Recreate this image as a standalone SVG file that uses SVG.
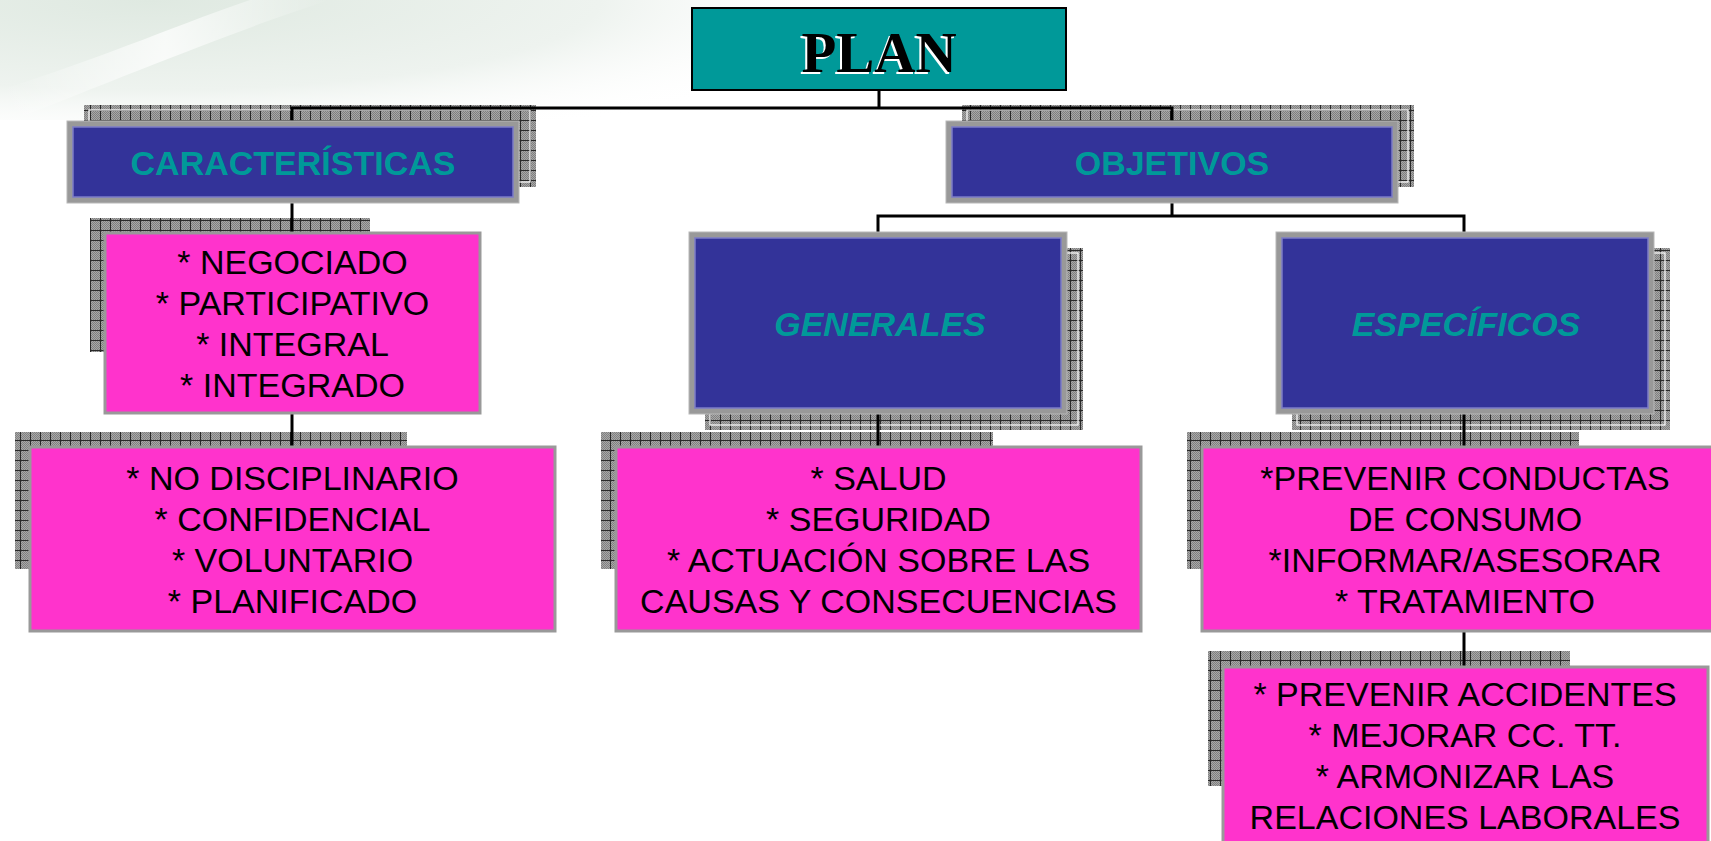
<svg xmlns="http://www.w3.org/2000/svg" width="1711" height="841" viewBox="0 0 1711 841">
<defs>
<radialGradient id="bg" cx="150" cy="0" r="750" gradientUnits="userSpaceOnUse" gradientTransform="translate(150 0) scale(1 0.2) translate(-150 0)">
<stop offset="0" stop-color="#dfe9e1"/>
<stop offset="0.6" stop-color="#eef3ef"/>
<stop offset="1" stop-color="#ffffff" stop-opacity="0"/>
</radialGradient>
<linearGradient id="swoosh" x1="0" y1="0" x2="1" y2="0">
<stop offset="0" stop-color="#ffffff" stop-opacity="0"/>
<stop offset="0.5" stop-color="#ffffff" stop-opacity="0.9"/>
<stop offset="1" stop-color="#ffffff" stop-opacity="0"/>
</linearGradient>
<pattern id="dither" width="2" height="2" patternUnits="userSpaceOnUse">
<rect width="2" height="2" fill="#a8a8a8"/>
<rect width="1" height="1" fill="#808080"/>
<rect x="1" y="1" width="1" height="1" fill="#808080"/>
</pattern>
<pattern id="grid" width="10" height="10" patternUnits="userSpaceOnUse">
<rect width="10" height="10" fill="url(#dither)"/>
<rect width="10" height="1" fill="#2a2a2a"/>
<rect width="1" height="10" fill="#2a2a2a"/>
</pattern>
<style>
.shadow{fill:url(#grid);}
.shline{fill:none;stroke:#ffffff;stroke-width:1.2;}
.conn{fill:none;stroke:#000000;stroke-width:3;}
.frame{fill:#999999;stroke:#b8b8b8;stroke-width:1;}
.blue{fill:#333399;stroke:#7c7cc8;stroke-width:1.5;}
.pink{fill:#ff33cc;stroke:#999999;stroke-width:3;}
.head{font-family:"Liberation Sans",Arial,sans-serif;font-weight:bold;font-size:34px;fill:#009999;text-anchor:middle;}
.it{font-style:italic;}
.body{font-family:"Liberation Sans",Arial,sans-serif;font-size:34px;fill:#000000;text-anchor:middle;}
.plan{font-family:"Liberation Serif","Times New Roman",serif;font-weight:bold;font-size:57px;text-anchor:middle;}
</style>
</defs>

<g id="background">
<rect width="1711" height="841" fill="#ffffff"/>
<rect width="1711" height="120" fill="url(#bg)"/>
<path d="M0 90 C110 55 190 20 250 0 L330 0 C250 25 140 70 0 125 Z" fill="url(#swoosh)" opacity="0.8"/>
</g>

<g id="shadows">
<rect class="shadow" x="84" y="105" width="452" height="82"/>
<rect class="shline" x="89" y="110" width="441" height="72"/>
<rect class="shadow" x="962" y="105" width="452" height="82"/>
<rect class="shline" x="967" y="110" width="441" height="72"/>
<rect class="shadow" x="705" y="248" width="378" height="182"/>
<rect class="shline" x="710" y="253" width="368" height="172"/>
<rect class="shadow" x="1292" y="248" width="378" height="182"/>
<rect class="shline" x="1297" y="253" width="368" height="172"/>
<rect class="shadow" x="90" y="218" width="280" height="134"/>
<rect class="shadow" x="15" y="432" width="392" height="137"/>
<rect class="shadow" x="601" y="432" width="392" height="137"/>
<rect class="shadow" x="1187" y="432" width="392" height="137"/>
<rect class="shadow" x="1208" y="651" width="362" height="135"/>
</g>

<g id="connectors">
<path class="conn" d="M879 90 V108 M292 122 V108 H1172 V122"/>
<path class="conn" d="M1172 203 V216 M878 232 V216 H1464 V232"/>
<path class="conn" d="M292 203 V234"/>
<path class="conn" d="M292 413 V448"/>
<path class="conn" d="M878 414 V448"/>
<path class="conn" d="M1464 414 V448"/>
<path class="conn" d="M1464 631 V668"/>
</g>

<g id="plan">
<rect x="692" y="8" width="374" height="82" fill="#009999" stroke="#000000" stroke-width="2"/>
<text class="plan" x="877" y="74" fill="#ffffff">PLAN</text>
<text class="plan" x="879" y="72" fill="#000000">PLAN</text>
</g>

<g id="caracteristicas">
<rect class="frame" x="67" y="121" width="452" height="82"/>
<rect class="blue" x="73" y="127" width="440" height="70"/>
<text class="head" x="293" y="175">CARACTERÍSTICAS</text>
</g>

<g id="objetivos">
<rect class="frame" x="946" y="121" width="452" height="82"/>
<rect class="blue" x="952" y="127" width="440" height="70"/>
<text class="head" x="1172" y="175">OBJETIVOS</text>
</g>

<g id="generales">
<rect class="frame" x="689" y="232" width="378" height="182"/>
<rect class="blue" x="695" y="238" width="366" height="170"/>
<text class="head it" x="880" y="336">GENERALES</text>
</g>

<g id="especificos">
<rect class="frame" x="1276" y="232" width="378" height="182"/>
<rect class="blue" x="1282" y="238" width="366" height="170"/>
<text class="head it" x="1466" y="336">ESPECÍFICOS</text>
</g>

<g id="negociado">
<rect class="pink" x="105" y="233" width="375" height="180"/>
<text class="body" x="292.5" y="274">* NEGOCIADO</text>
<text class="body" x="292.5" y="315">* PARTICIPATIVO</text>
<text class="body" x="292.5" y="356">* INTEGRAL</text>
<text class="body" x="292.5" y="397">* INTEGRADO</text>
</g>

<g id="no-disciplinario">
<rect class="pink" x="30" y="447" width="525" height="184"/>
<text class="body" x="292.5" y="490">* NO DISCIPLINARIO</text>
<text class="body" x="292.5" y="531">* CONFIDENCIAL</text>
<text class="body" x="292.5" y="572">* VOLUNTARIO</text>
<text class="body" x="292.5" y="613">* PLANIFICADO</text>
</g>

<g id="salud">
<rect class="pink" x="616" y="447" width="525" height="184"/>
<text class="body" x="878.5" y="490">* SALUD</text>
<text class="body" x="878.5" y="531">* SEGURIDAD</text>
<text class="body" x="878.5" y="572">* ACTUACIÓN SOBRE LAS</text>
<text class="body" x="878.5" y="613">CAUSAS Y CONSECUENCIAS</text>
</g>

<g id="prevenir-conductas">
<rect class="pink" x="1202" y="447" width="525" height="184"/>
<text class="body" x="1465" y="490">*PREVENIR CONDUCTAS</text>
<text class="body" x="1465" y="531">DE CONSUMO</text>
<text class="body" x="1465" y="572">*INFORMAR/ASESORAR</text>
<text class="body" x="1465" y="613">* TRATAMIENTO</text>
</g>

<g id="prevenir-accidentes">
<rect class="pink" x="1223" y="667" width="485" height="184"/>
<text class="body" x="1465" y="706">* PREVENIR ACCIDENTES</text>
<text class="body" x="1465" y="747">* MEJORAR CC. TT.</text>
<text class="body" x="1465" y="788">* ARMONIZAR LAS</text>
<text class="body" x="1465" y="829">RELACIONES LABORALES</text>
</g>
</svg>
